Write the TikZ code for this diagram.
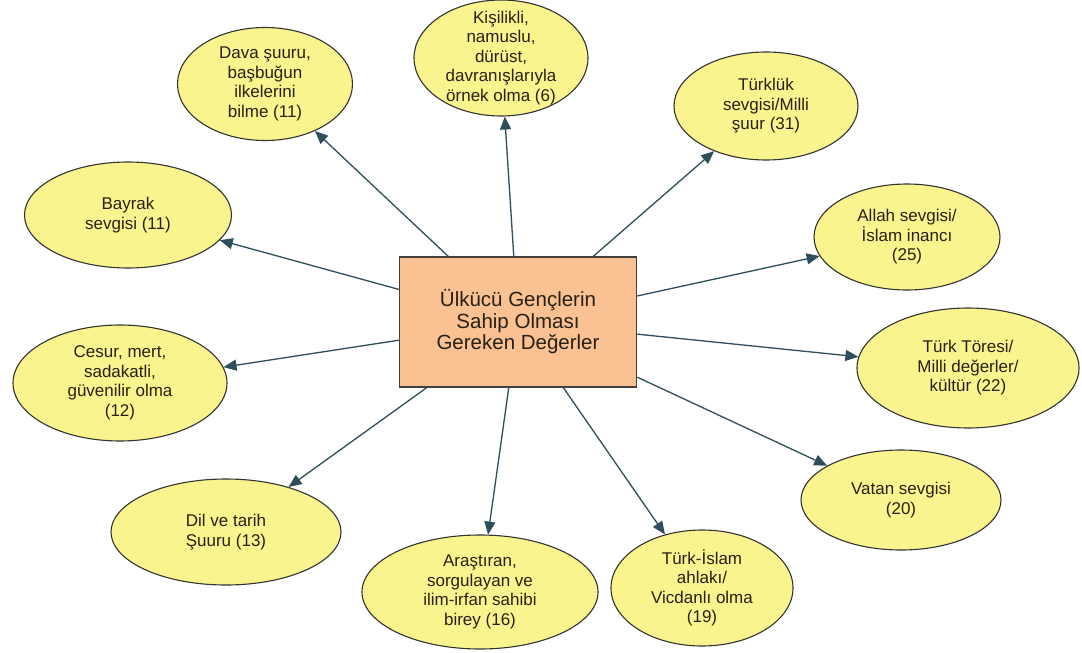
\documentclass[tikz,border=0pt]{standalone}
\usepackage{fontspec}
\setmainfont{Liberation Sans}
\usetikzlibrary{shapes.geometric,arrows.meta}
\definecolor{ovalfill}{RGB}{250,244,142}
\definecolor{boxfill}{RGB}{250,193,146}
\definecolor{arrowcol}{RGB}{46,78,92}
\definecolor{inkcol}{RGB}{40,32,20}
\begin{document}
\begin{tikzpicture}[x=1pt,y=-1pt,
  val/.style={ellipse, draw=black!80, line width=1.1pt, fill=ovalfill, inner sep=-30pt, align=center, text=inkcol, font=\fontsize{17}{19.5}\selectfont},
  link/.style={draw=arrowcol, line width=1.3pt, -{Triangle[length=13pt,width=11pt]}}]
\useasboundingbox[fill=white] (0,0) rectangle (1082,653);
\node[rectangle, draw=black!75, line width=1.5pt, fill=boxfill, minimum width=237pt, minimum height=130pt, align=center, text=inkcol, font=\fontsize{20.5}{21.5}\selectfont] (core) at (518,322) {Ülkücü Gençlerin\\Sahip Olması\\Gereken Değerler};
\node[val, minimum width=175pt, minimum height=113pt] (val1) at (265,84) {Dava şuuru,\\başbuğun\\ilkelerini\\bilme (11)};
\node[val, minimum width=174pt, minimum height=116pt] (val2) at (501,58) {Kişilikli,\\namuslu,\\dürüst,\\davranışlarıyla\\örnek olma (6)};
\node[val, minimum width=184pt, minimum height=108pt] (val3) at (766,106) {Türklük\\sevgisi/Milli\\şuur (31)};
\node[val, minimum width=207pt, minimum height=106pt] (val4) at (128,215) {Bayrak\\sevgisi (11)};
\node[val, minimum width=186pt, minimum height=106pt] (val5) at (907,237) {Allah sevgisi/\\İslam inancı\\(25)};
\node[val, minimum width=214pt, minimum height=116pt] (val6) at (120,383) {Cesur, mert,\\sadakatli,\\güvenilir olma\\(12)};
\node[val, minimum width=222pt, minimum height=120pt] (val7) at (968,368) {Türk Töresi/\\Milli değerler/\\kültür (22)};
\node[val, minimum width=230pt, minimum height=106pt] (val8) at (226,532) {Dil ve tarih\\Şuuru (13)};
\node[val, minimum width=200pt, minimum height=100pt] (val9) at (901,500) {Vatan sevgisi\\(20)};
\node[val, minimum width=236pt, minimum height=114pt] (val10) at (480,592) {Araştıran,\\sorgulayan ve\\ilim-irfan sahibi\\birey (16)};
\node[val, minimum width=182pt, minimum height=116pt] (val11) at (702,588) {Türk-İslam\\ahlakı/\\Vicdanlı olma\\(19)};
\draw[link](core) -- (val1);
\draw[link](core) -- (val2);
\draw[link](core) -- (val3);
\draw[link](core) -- (val4);
\draw[link](core) -- (val5);
\draw[link](core) -- (val6);
\draw[link](core) -- (val7);
\draw[link](core) -- (val8);
\draw[link](core) -- (val9);
\draw[link](core) -- (val10);
\draw[link](core) -- (val11);
\end{tikzpicture}
\end{document}
